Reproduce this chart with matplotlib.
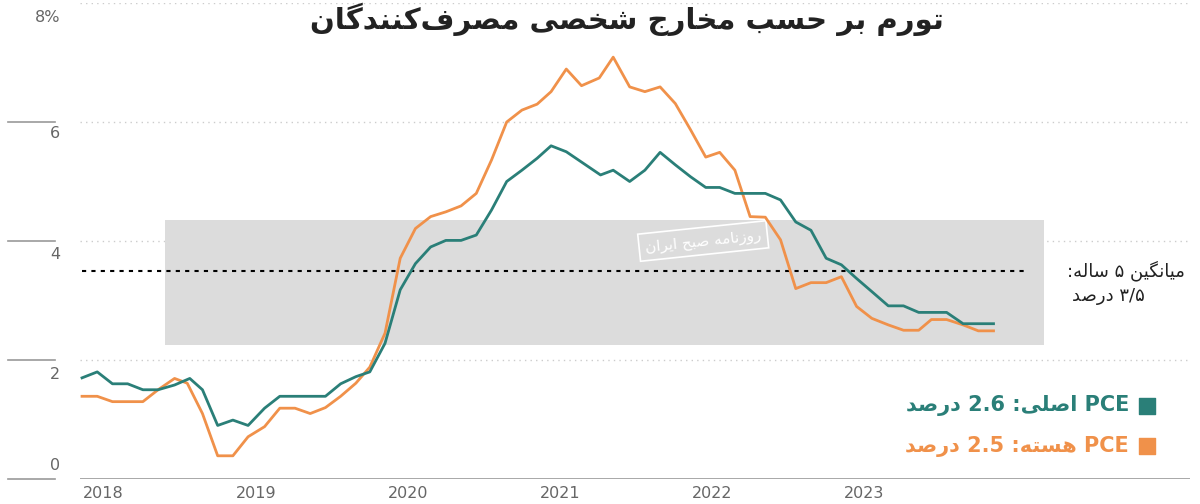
import matplotlib
matplotlib.use("Agg")
import matplotlib.pyplot as plt
import matplotlib.transforms as mtrans

# --- minimal Persian shaping (matplotlib has no RTL / joining) ---
FORMS = {  # iso, fin, ini, med
    'ا': ('\uFE8D', '\uFE8E', None, None),
    'ب': ('\uFE8F', '\uFE90', '\uFE91', '\uFE92'),
    'ت': ('\uFE95', '\uFE96', '\uFE97', '\uFE98'),
    'ج': ('\uFE9D', '\uFE9E', '\uFE9F', '\uFEA0'),
    'ح': ('\uFEA1', '\uFEA2', '\uFEA3', '\uFEA4'),
    'خ': ('\uFEA5', '\uFEA6', '\uFEA7', '\uFEA8'),
    'د': ('\uFEA9', '\uFEAA', None, None),
    'ر': ('\uFEAD', '\uFEAE', None, None),
    'ز': ('\uFEAF', '\uFEB0', None, None),
    'س': ('\uFEB1', '\uFEB2', '\uFEB3', '\uFEB4'),
    'ش': ('\uFEB5', '\uFEB6', '\uFEB7', '\uFEB8'),
    'ص': ('\uFEB9', '\uFEBA', '\uFEBB', '\uFEBC'),
    'ف': ('\uFED1', '\uFED2', '\uFED3', '\uFED4'),
    'ل': ('\uFEDD', '\uFEDE', '\uFEDF', '\uFEE0'),
    'م': ('\uFEE1', '\uFEE2', '\uFEE3', '\uFEE4'),
    'ن': ('\uFEE5', '\uFEE6', '\uFEE7', '\uFEE8'),
    'ه': ('\uFEE9', '\uFEEA', '\uFEEB', '\uFEEC'),
    'و': ('\uFEED', '\uFEEE', None, None),
    'ی': ('\uFBFC', '\uFBFD', '\uFBFE', '\uFBFF'),
    'ک': ('\uFB8E', '\uFB8F', '\uFB90', '\uFB91'),
    'گ': ('\uFB92', '\uFB93', '\uFB94', '\uFB95'),
}


def fa(s):
    out = []
    for i, c in enumerate(s):
        if c == '\u200c':
            continue
        if c not in FORMS:
            out.append(c)
            continue
        p = s[i - 1] if i > 0 else ''
        n = s[i + 1] if i + 1 < len(s) else ''
        jp = p in FORMS and FORMS[p][2] is not None
        jn = FORMS[c][2] is not None and n in FORMS
        f = FORMS[c]
        out.append(f[3] if jp and jn else f[1] if jp else f[2] if jn else f[0])
    return ''.join(reversed(out))


# --- data (month index, value %) ---
pce_x = [0, 1.2, 2.4, 3.6, 4.8, 6, 7.3, 8.5, 9.5, 10.7, 11.9, 13.1, 14.4, 15.6, 19.2, 20.4,
         21.6, 22.7, 23.9, 25.1, 26.3, 27.5, 28.7, 29.9, 31.1, 32.3, 33.5, 34.7, 35.9, 37,
         38.2, 40.9, 41.9, 43.2, 44.4, 45.6, 46.8, 48, 49.2, 50.3, 51.5, 53.9, 55.1, 56.3,
         57.5, 58.7, 59.9, 61.1, 62.3, 63.6, 64.8, 66, 68.2, 69.5, 71.9]
pce_y = [1.70, 1.80, 1.60, 1.60, 1.50, 1.50, 1.58, 1.69, 1.50, 0.90, 0.99, 0.90, 1.19, 1.39,
         1.39, 1.60, 1.72, 1.80, 2.28, 3.18, 3.62, 3.90, 4.01, 4.01, 4.10, 4.52, 5.00, 5.19,
         5.39, 5.60, 5.50, 5.11, 5.19, 5.00, 5.19, 5.49, 5.28, 5.08, 4.90, 4.90, 4.80, 4.80,
         4.69, 4.32, 4.18, 3.71, 3.60, 3.37, 3.15, 2.91, 2.91, 2.80, 2.80, 2.61, 2.61]
core_x = [0, 1.2, 2.4, 4.8, 6, 7.3, 8.3, 9.5, 10.7, 11.9, 13.1, 14.4, 15.6, 16.8, 18, 19.2,
          20.4, 21.6, 22.7, 23.9, 25.1, 26.3, 27.5, 28.7, 29.9, 31.1, 32.3, 33.5, 34.7, 35.9,
          37, 38.2, 39.4, 40.8, 41.9, 43.2, 44.4, 45.6, 46.8, 48, 49.2, 50.3, 51.5, 52.7, 53.9,
          55.1, 56.3, 57.5, 58.7, 59.9, 61.1, 62.3, 63.6, 64.8, 66, 67, 68.2, 69.5, 70.7, 71.9]
core_y = [1.39, 1.39, 1.30, 1.30, 1.50, 1.69, 1.61, 1.10, 0.39, 0.39, 0.71, 0.88, 1.19, 1.19,
          1.10, 1.20, 1.39, 1.61, 1.88, 2.45, 3.71, 4.21, 4.41, 4.49, 4.59, 4.80, 5.36, 6.00,
          6.20, 6.30, 6.51, 6.89, 6.61, 6.74, 7.09, 6.59, 6.51, 6.59, 6.31, 5.87, 5.41, 5.49,
          5.19, 4.41, 4.40, 4.02, 3.20, 3.30, 3.30, 3.40, 2.90, 2.70, 2.59, 2.50, 2.50, 2.68,
          2.68, 2.59, 2.49, 2.49]
year_pos = [1.7, 13.7, 25.7, 37.7, 49.7, 61.7]
year_labels = ['2018', '2019', '2020', '2021', '2022', '2023']
avg_5y = 3.5

GREEN = '#2a7f78'
ORANGE = '#f0914a'
GREY = '#666666'

fig = plt.figure(figsize=(12, 5.04), dpi=100)
ax = fig.add_axes([80 / 1200, 25 / 504, 1110 / 1200, 476 / 504])
ax.set_xlim(-0.16, 87.4)
ax.set_ylim(0, 8)
ax.axis('off')

for v in [2, 4, 6, 8]:
    ax.axhline(v, color='#cccccc', lw=1, ls=(0, (1, 3)), zorder=0)
ax.axhline(0, color='#999999', lw=1.2, zorder=1)
ytr = mtrans.blended_transform_factory(ax.transAxes, ax.transData)
for v in [0, 2, 4, 6]:
    ax.plot([-0.065, -0.0225], [v, v], color='#999999', lw=1.2, transform=ytr, clip_on=False)
for v, lab in zip([0.22, 1.76, 3.78, 5.8, 7.75], ['0', '2', '4', '6', '8%']):
    ax.text(-0.018, v, lab, transform=ytr, ha='right', va='center', fontsize=11.5, color=GREY)
for p, lab in zip(year_pos, year_labels):
    ax.text(p, -0.25, lab, ha='center', va='center', fontsize=11.5, color=GREY, clip_on=False)

# watermark box
ax.add_patch(plt.Rectangle((6.55, 2.25), 69.3, 2.1, color='#dcdcdc', lw=0, zorder=0))
ax.text(49.0, 4.0, fa('روزنامه صبح ایران'), ha='center', va='center', fontsize=11,
        color='white', rotation=6, zorder=0.5,
        bbox=dict(boxstyle='square,pad=0.4', fc='none', ec='white', lw=1.2))

ax.plot([0, 74.4], [avg_5y, avg_5y], color='black', lw=1.5, ls=(0, (2, 2.5)), zorder=2)
ax.plot(core_x, core_y, color=ORANGE, lw=2, zorder=3)
ax.plot(pce_x, pce_y, color=GREEN, lw=2, zorder=4)

ax.text(87.0, avg_5y, ':' + fa('ساله') + ' ۵ ' + fa('میانگین'), ha='right', va='center',
        fontsize=13, color='#222222')
ax.text(81.0, 3.07, fa('درصد') + ' ۳/۵', ha='center', va='center', fontsize=13,
        color='#222222')

# legend
for y, col, txt in [(1.23, GREEN, fa('درصد') + ' 2.6 :' + fa('اصلی') + ' PCE'),
                    (0.55, ORANGE, fa('درصد') + ' 2.5 :' + fa('هسته') + ' PCE')]:
    ax.scatter([84.0], [y], marker='s', s=120, color=col, clip_on=False)
    ax.text(82.6, y, txt, ha='right', va='center', fontsize=15, color=col, fontweight='bold')

fig.text(0.522, 0.962, fa('تورم بر حسب مخارج شخصی مصرف\u200cکنندگان'), ha='center',
         va='center', fontsize=21, fontweight='bold', color='#222222')

fig.savefig('out.png', dpi=100)
